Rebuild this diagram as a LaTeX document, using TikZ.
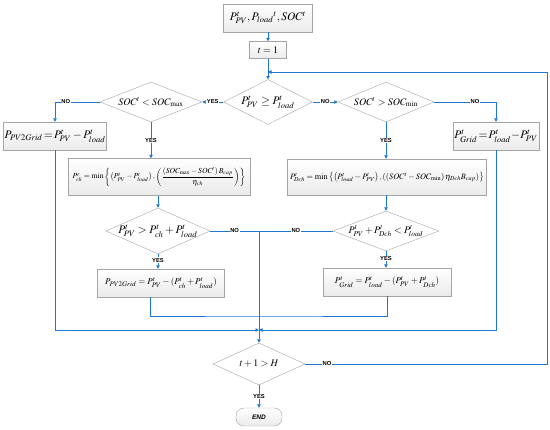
\documentclass[tikz,border=0pt]{standalone}
\usepackage{amsmath}
\usepackage{mathptmx}
\usepackage[no-math]{fontspec}
\setmainfont{Liberation Serif}
\newfontfamily\lblfont{Liberation Sans}
\usetikzlibrary{shapes.geometric,arrows.meta}
\definecolor{flowblue}{RGB}{30,120,210}
\definecolor{boxline}{RGB}{165,165,165}

\tikzset{
  box/.style={draw=boxline, top color=white, bottom color=gray!16, inner sep=1pt},
  decision/.style={diamond, draw=boxline, fill=white, inner sep=0pt},
  flow/.style={draw=flowblue, line width=0.8pt, -{Triangle[length=3.5pt,width=3.5pt]}},
  link/.style={draw=flowblue, line width=0.8pt},
  tag/.style={fill=white, inner sep=0.6pt, font=\lblfont\bfseries\fontsize{5.8}{6}\selectfont},
}

\begin{document}
\begin{tikzpicture}[x=1pt,y=-1pt]
\useasboundingbox (0,0) rectangle (550,430);
% start
\node[box, minimum width=89pt, minimum height=28pt, font=\fontsize{11.5}{12}\selectfont] (init) at (268,18) {$P_{PV}^{t}, P_{load}{}^{t}, SOC^{t}$};
\node[box, minimum width=37pt, minimum height=17pt] (tone) at (268,50) {$t=1$};
% first decisions
\node[decision, aspect=2, minimum width=89pt, minimum height=45pt, font=\fontsize{11.5}{12}\selectfont] (d1) at (268,102) {$P_{PV}^{t}\geq P_{load}^{t}$};
\node[decision, aspect=2.5, minimum width=102pt, minimum height=40pt] (d2) at (151,102) {$SOC^{t}<SOC_{\max}$};
\node[decision, aspect=2.4, minimum width=96pt, minimum height=40pt] (dmin) at (386,102) {$SOC^{t}>SOC_{\min}$};
\node[box, minimum width=100pt, minimum height=28pt, font=\fontsize{11.5}{12}\selectfont] (gridL) at (55,136) {$P_{PV2Grid}\!=\!P_{PV}^{t}-P_{load}^{t}$};
\node[box, minimum width=86pt, minimum height=28pt, font=\fontsize{11.5}{12}\selectfont] (gridR) at (496,136) {$P_{Grid}^{t}\!=\!P_{load}^{t}\!-\!P_{PV}^{t}$};
% battery
\node[box, minimum width=182pt, minimum height=37pt, font=\fontsize{7.7}{8}\selectfont] (pch) at (159,177)
  {$P_{ch}^{t}=\min\left\{\left(P_{PV}^{t}-P_{load}^{t}\right),\left(\dfrac{\left(SOC_{\max}-SOC^{t}\right)B_{cap}}{\eta_{ch}}\right)\right\}$};
\node[box, minimum width=199pt, minimum height=36pt, font=\fontsize{8.3}{9}\selectfont] (pdch) at (387,177)
  {$P_{Dch}^{t}=\min\left\{\left(P_{load}^{t}-P_{PV}^{t}\right),\left(\left(SOC^{t}-SOC_{\min}\right)\eta_{Dch}B_{cap}\right)\right\}$};
\node[decision, aspect=2.3, inner sep=-1pt, minimum width=104pt, minimum height=46pt, font=\fontsize{11.5}{12}\selectfont] (d3) at (158,231) {$P_{PV}^{t}>P_{ch}^{t}+P_{load}^{t}$};
\node[decision, aspect=2.6, minimum width=106pt, minimum height=40pt] (d4) at (386,231) {$P_{PV}^{t}+P_{Dch}^{t}<P_{load}^{t}$};
\node[box, minimum width=127pt, minimum height=28pt, font=\fontsize{9}{10}\selectfont] (pv2) at (161,283) {$P_{PV2Grid}=P_{PV}^{t}-(P_{ch}^{t}+P_{load}^{t})$};
\node[box, minimum width=128pt, minimum height=28pt, font=\fontsize{9}{10}\selectfont] (g2) at (387,282) {$P_{Grid}^{t}=P_{load}^{t}-(P_{PV}^{t}+P_{Dch}^{t})$};
% end check
\node[decision, aspect=2.2, minimum width=92pt, minimum height=42pt] (d5) at (259,364) {$t+1>H$};
\node[box, rounded corners=8pt, minimum width=46pt, minimum height=18pt, font=\lblfont\bfseries\itshape\fontsize{6.5}{7}\selectfont] (stop) at (259,417) {END};

\coordinate (j) at (259,231);
\coordinate (merge) at (259,330);
\coordinate (u) at (259,316);
\coordinate (rr) at (547,72);

\draw[flow] (init) -- (tone);
\draw[flow] (tone) -- (d1);
\draw[flow] (d1.west) -- node[tag]{YES} (d2.east);
\draw[flow] (d1.east) -- node[tag]{NO} (dmin.west);
\draw[flow] (d2.west) -| node[tag, pos=0.38]{NO} (gridL.north);
\draw[flow] (dmin.east) -| node[tag, pos=0.33]{NO} (gridR.north);
\draw[flow] (d2.south) -- node[tag]{YES} (d2.south |- pch.north);
\draw[flow] (dmin.south) -- node[tag]{YES} (dmin.south |- pdch.north);
\draw[flow] (pch.south -| d3.north) -- (d3.north);
\draw[flow] (pdch.south -| d4.north) -- (d4.north);
\draw[link] (d3.east) -- node[tag]{NO} (j);
\draw[link] (d4.west) -- node[tag]{NO} (j);
\draw[flow] (d3.south) -- node[tag, pos=0.4]{YES} (d3.south |- pv2.north);
\draw[flow] (d4.south) -- node[tag, pos=0.45]{YES} (d4.south |- g2.north);
\draw[draw=flowblue, line width=0.6pt] ([xshift=-11pt]pv2.south) |- (u) -| (g2.south);
\draw[link] (j) -- (merge);
\draw[flow] (gridL.south) |- (merge);
\draw[flow] (gridR.south) |- (merge);
\draw[flow] (merge) -- (d5.north);
\draw[flow] (d5.east) -| node[tag, pos=0.045]{NO} (rr) -- (tone.south |- rr);
\draw[flow] (d5.south) -- node[tag]{YES} (stop.north);
\end{tikzpicture}
\end{document}
